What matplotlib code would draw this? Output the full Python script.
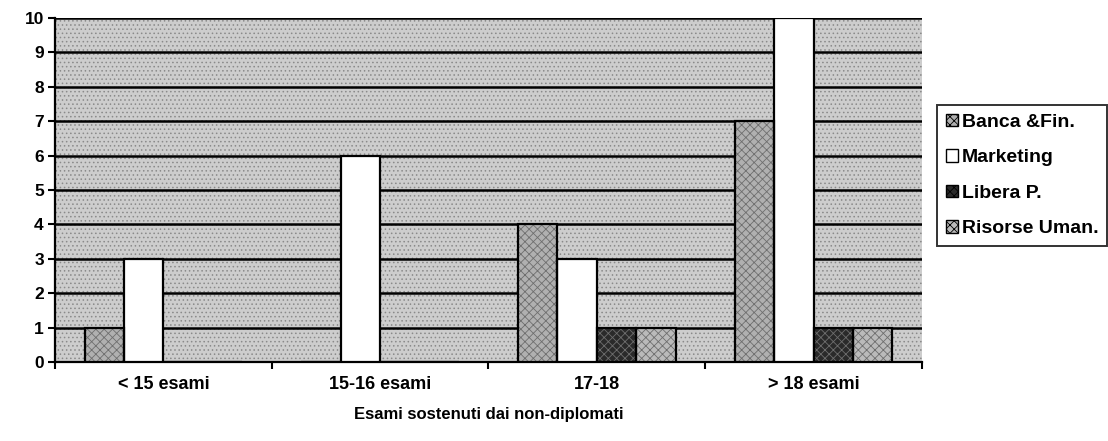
import matplotlib.pyplot as plt
import matplotlib.patches as mpatch
import numpy as np

plt.rcParams['font.family'] = ['Liberation Sans', 'DejaVu Sans']
plt.rcParams['font.weight'] = 'bold'
plt.rcParams['hatch.linewidth'] = 0.6

categories = ['< 15 esami', '15-16 esami', '17-18', '> 18 esami']
series_names = ['Banca &Fin.', 'Marketing', 'Libera P.', 'Risorse Uman.']
banca = [1, 0, 4, 7]
marketing = [3, 6, 3, 10]
libera = [0, 0, 1, 1]
risorse = [0, 0, 1, 1]
series = [banca, marketing, libera, risorse]
y_ticks = list(range(0, 11))
x_label = 'Esami sostenuti dai non-diplomati'

# styles for each series: face, hatch
styles = [('#b0b0b0', 'xxxx'), ('white', None), ('#2a2a2a', 'xxxx'), ('#bababa', 'xxxx')]

fig = plt.figure(figsize=(11.08, 4.41), dpi=100)
ax = fig.add_axes([0.0496, 0.179, 0.7825, 0.78])

# stippled plot background
ax.set_facecolor('#cdcdcd')
bg = mpatch.Rectangle((0, 0), 1, 1, transform=ax.transAxes, facecolor='none',
                      edgecolor='#8a8a8a', hatch='....', lw=0, zorder=0)
ax.add_patch(bg)

n = len(series)
gap = 1.5
width = 1.0 / (n + gap)
x = np.arange(len(categories))
for i, (vals, (fc, hatch)) in enumerate(zip(series, styles)):
    pos = x - 0.5 + width * (gap / 2 + i + 0.5)
    if hatch:
        ax.bar(pos, vals, width, color=fc, hatch=hatch, edgecolor='#6e6e6e', lw=0, zorder=3)
    else:
        ax.bar(pos, vals, width, color=fc, lw=0, zorder=3)
    ax.bar(pos, vals, width, fill=False, edgecolor='black', lw=1.6, zorder=4)

ax.set_xlim(-0.5, len(categories) - 0.5)
ax.set_ylim(0, 10)
ax.set_yticks(y_ticks)
ax.set_yticklabels([str(t) for t in y_ticks], fontsize=12.5, fontweight='bold')
ax.set_xticks(x)
ax.set_xticklabels(categories, fontsize=13, fontweight='bold')
ax.set_xticks(np.arange(len(categories) + 1) - 0.5, minor=True)
ax.tick_params(axis='x', which='major', length=0, pad=10)
ax.tick_params(axis='x', which='minor', length=5, width=1.5, direction='out')
ax.tick_params(axis='y', length=5, width=1.5, direction='out', pad=3)

ax.yaxis.grid(True, color='black', lw=1.8, zorder=1)
ax.set_axisbelow(True)
for s in ['top', 'right']:
    ax.spines[s].set_visible(False)
ax.spines['left'].set_linewidth(1.6)
ax.spines['bottom'].set_linewidth(1.6)

ax.set_xlabel(x_label, fontsize=12, fontweight='bold', labelpad=10)

handles = []
for name, (fc, hatch) in zip(series_names, styles):
    handles.append(mpatch.Patch(facecolor=fc, edgecolor='black', hatch=hatch, lw=1, label=name))
leg = fig.legend(handles=handles, loc='upper left', bbox_to_anchor=(0.846, 0.762),
                 frameon=True, fancybox=False, edgecolor='black', fontsize=14,
                 handlelength=0.6, handleheight=0.6, handletextpad=0.2,
                 labelspacing=0.95, borderpad=0.45, borderaxespad=0)
leg.get_frame().set_linewidth(1.4)
for t in leg.get_texts():
    t.set_fontweight('bold')

fig.savefig('out.png', dpi=100)
